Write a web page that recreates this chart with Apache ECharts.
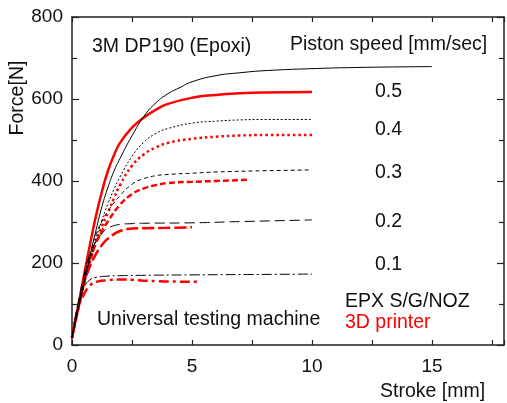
<!DOCTYPE html>
<html>
<head>
<meta charset="utf-8">
<script src="https://cdn.jsdelivr.net/npm/echarts@6/dist/echarts.min.js"></script>
<style>html,body{margin:0;padding:0;background:#fff}#c{width:507px;height:403px}</style>
</head>
<body>
<div id="c"></div>
<script>
// Universal testing machine (black)
const utm05x = [0, 0.25, 0.5, 0.75, 1, 1.25, 1.5, 1.75, 2, 2.5, 3, 3.5, 4, 4.5, 5, 6, 7, 8, 10, 12, 15];
const utm05y = [18, 85, 150, 217, 280, 338, 385, 424, 455, 510, 558, 591, 613, 628, 642, 657, 664, 669, 674, 677, 679];
const utm04x = [0, 0.25, 0.5, 0.75, 1, 1.25, 1.5, 1.75, 2, 2.5, 3, 3.5, 4, 5, 6, 7, 8, 10];
const utm04y = [18, 85, 150, 208, 260, 305, 345, 380, 410, 460, 495, 516, 528, 541, 546, 549, 550, 550];
const utm03x = [0, 0.25, 0.5, 0.75, 1, 1.25, 1.5, 2, 2.5, 3, 3.5, 4, 5, 6, 8, 10];
const utm03y = [18, 90, 160, 222, 270, 302, 327, 364, 392, 406, 413, 416, 419, 422, 425, 427];
const utm02x = [0, 0.25, 0.5, 0.75, 1, 1.25, 1.5, 2, 2.5, 3, 5, 7, 10];
const utm02y = [18, 100, 170, 223, 252, 272, 285, 294, 296, 297, 298, 301, 305];
const utm01x = [0, 0.25, 0.5, 0.75, 1, 1.5, 2, 3, 5, 7.5, 10];
const utm01y = [18, 100, 140, 159, 165, 168, 169, 170, 171, 172, 173];
// 3D printer (red)
const p05x = [0, 0.25, 0.5, 0.75, 1, 1.25, 1.5, 1.75, 2, 2.5, 3, 3.5, 4, 5, 6, 7, 8, 10];
const p05y = [20, 92, 170, 245, 315, 375, 425, 463, 493, 530, 555, 574, 588, 603, 610, 614, 616, 617];
const p04x = [0, 0.25, 0.5, 0.75, 1, 1.25, 1.5, 1.75, 2, 2.5, 3, 3.5, 4, 5, 6, 7, 8, 10];
const p04y = [18, 85, 150, 205, 252, 290, 323, 358, 390, 437, 465, 482, 493, 503, 508, 511, 512, 512];
const p03x = [0, 0.25, 0.5, 0.75, 1, 1.25, 1.5, 2, 2.5, 3, 3.5, 4, 5, 6, 7.4];
const p03y = [18, 85, 150, 205, 248, 278, 302, 342, 368, 382, 390, 395, 398, 400, 403];
const p02x = [0, 0.25, 0.5, 0.75, 1, 1.25, 1.5, 2, 2.5, 3, 4, 5];
const p02y = [18, 90, 150, 192, 222, 244, 260, 278, 284, 285, 286, 287];
const p01x = [0, 0.25, 0.5, 0.75, 1, 1.5, 2, 2.5, 3, 3.5, 4, 5.2];
const p01y = [18, 88, 124, 145, 154, 158, 160, 159, 157, 156, 155, 154];

const speedLabels = ['0.5', '0.4', '0.3', '0.2', '0.1'];
const xTicks = [0, 5, 10, 15];
const yTicks = [0, 200, 400, 600, 800];

function pairs(xs, ys) { return xs.map((x, i) => [x, ys[i]]); }
const FONT = 'Liberation Sans, Arial, sans-serif';

function mk(xs, ys, color, width, dash) {
  return {
    type: 'line', data: pairs(xs, ys), showSymbol: false, smooth: 0.5,
    lineStyle: { color: color, width: width, type: dash }, silent: true, z: color === 'black' ? 3 : 2
  };
}

const chart = echarts.init(document.getElementById('c'));
const mkLine = () => ({ show: true, onZero: false, lineStyle: { color: '#222', width: 1.5 } });
const txt = (t, x, y, color) => ({
  type: 'text', x: x, y: y, style: { text: t, fill: color || '#111', font: '19.5px ' + FONT, textVerticalAlign: 'middle' }
});

chart.setOption({
  animation: false,
  grid: { left: 72, top: 17, width: 437, height: 328, containLabel: false },
  xAxis: [{
    type: 'value', min: 0, max: 18, interval: 2.5, position: 'bottom',
    axisLine: mkLine(), splitLine: { show: false },
    axisTick: { show: true, inside: true, length: 5, lineStyle: { color: '#222', width: 1.2 } },
    axisLabel: { color: '#111', fontSize: 19, fontFamily: FONT, margin: 12,
      formatter: v => xTicks.indexOf(v) >= 0 ? String(v) : '' }
  }, {
    type: 'value', min: 0, max: 18, interval: 2.5, position: 'top',
    axisLine: mkLine(), splitLine: { show: false },
    axisTick: { show: true, inside: true, length: 5, lineStyle: { color: '#222', width: 1.2 } },
    axisLabel: { show: false }
  }],
  yAxis: [{
    type: 'value', min: 0, max: 800, interval: 200, position: 'left',
    axisLine: mkLine(), splitLine: { show: false },
    axisTick: { show: true, inside: true, length: 7, lineStyle: { color: '#222', width: 1.2 } },
    minorTick: { show: true, splitNumber: 2, length: 5, lineStyle: { color: '#222', width: 1.2 } },
    axisLabel: { color: '#111', fontSize: 19, fontFamily: FONT, margin: 9,
      formatter: v => yTicks.indexOf(v) >= 0 ? String(v) : '' }
  }, {
    type: 'value', min: 0, max: 800, interval: 200, position: 'right',
    axisLine: mkLine(), splitLine: { show: false },
    axisTick: { show: true, inside: true, length: 7, lineStyle: { color: '#222', width: 1.2 } },
    minorTick: { show: true, splitNumber: 2, length: 5, lineStyle: { color: '#222', width: 1.2 } },
    axisLabel: { show: false }
  }],
  series: [
    mk(utm05x, utm05y, 'black', 1, 'solid'),
    mk(utm04x, utm04y, 'black', 1, [2, 2]),
    mk(utm03x, utm03y, 'black', 1, [4, 3]),
    mk(utm02x, utm02y, 'black', 1, [10, 5]),
    mk(utm01x, utm01y, 'black', 1, [10, 3, 2, 3]),
    mk(p05x, p05y, '#ff0000', 2.5, 'solid'),
    mk(p04x, p04y, '#ff0000', 2.5, [2.5, 3]),
    mk(p03x, p03y, '#ff0000', 2.5, [6, 3]),
    mk(p02x, p02y, '#ff0000', 2.5, [12, 4]),
    mk(p01x, p01y, '#ff0000', 2.5, [10, 4, 3, 4])
  ],
  graphic: [
    txt('3M DP190 (Epoxi)', 92, 47),
    txt('Piston speed [mm/sec]', 290, 45),
    txt(speedLabels[0], 375, 92),
    txt(speedLabels[1], 375, 130),
    txt(speedLabels[2], 375, 173),
    txt(speedLabels[3], 375, 222),
    txt(speedLabels[4], 375, 265),
    txt('EPX S/G/NOZ', 345, 302),
    txt('3D printer', 345, 323, '#ff0000'),
    txt('Universal testing machine', 97, 320),
    txt('Stroke [mm]', 380, 392),
    { type: 'text', x: 18, y: 98, rotation: Math.PI / 2,
      style: { text: 'Force[N]', fill: '#111', font: '19.5px ' + FONT, textAlign: 'center', textVerticalAlign: 'middle' } }
  ]
});
</script>
</body>
</html>
